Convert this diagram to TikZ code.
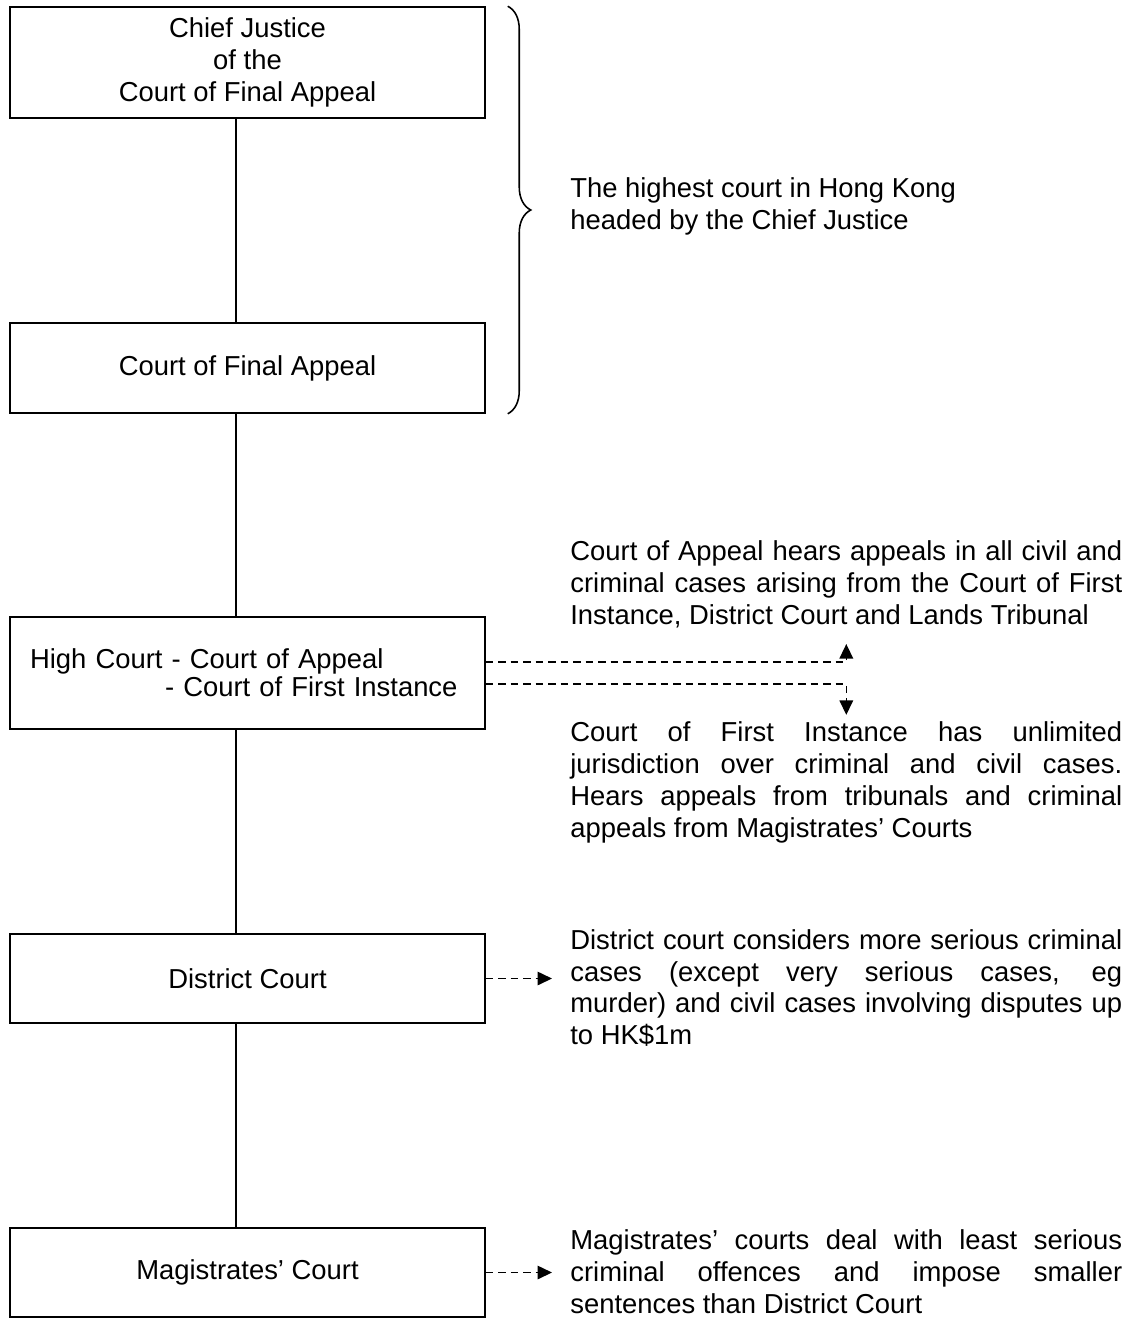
\documentclass[tikz,border=0pt]{standalone}
\usepackage{fontspec}
\setmainfont{Liberation Sans}
\usetikzlibrary{arrows.meta,positioning,decorations.pathreplacing}
\newcommand{\jline}[1]{\makebox[11.04cm][s]{#1}}

\begin{document}
\begin{tikzpicture}[
  x=0.02cm, y=-0.02cm,
  >={Triangle[length=0.29cm,width=0.27cm]},
  font=\fontsize{15.6}{18.2}\selectfont,
  court/.style={draw, line width=0.9pt, minimum width=9.5cm, align=center, inner sep=0pt},
  note/.style={anchor=west, align=left, inner sep=0pt},
  link/.style={line width=0.9pt},
  dashlink/.style={->, line width=0.9pt, dash pattern=on 0.15cm off 0.1cm}
]
\useasboundingbox (0,0) rectangle (1136,1325);

\node[court, minimum height=2.22cm] (cj) at (247.5,62.5) {Chief Justice\\of the\\Court of Final Appeal};
\node[court, minimum height=1.80cm] (cfa) at (247.5,368) {Court of Final Appeal};
\node[court, minimum height=2.24cm, text width=8.7cm, align=left, inner xsep=0.4cm,
      font=\fontsize{15.6}{16}\selectfont] (hc) at (247.5,673)
  {High Court - Court of Appeal\\\hspace*{2.7cm}- Court of First Instance};
\node[court, minimum height=1.78cm] (dc) at (247.5,978.5) {District Court};
\node[court, minimum height=1.78cm] (mc) at (247.5,1272.5) {Magistrates' Court};

% the vertical line runs a little left of the box centres
\coordinate (spine) at (236,0);
\foreach \a/\b in {cj/cfa, cfa/hc, hc/dc, dc/mc}
  \draw[link] (\a.south -| spine) -- (\b.north -| spine);

\draw[link, decorate, decoration={brace, amplitude=0.46cm}]
  ([xshift=0.44cm]cj.north east) -- ([xshift=0.44cm]cfa.south east);

\node[note] (top) at (570,206) {The highest court in Hong Kong\\headed by the Chief Justice};
\node[note] (appeal) at (570,584)
  {\jline{Court of Appeal hears appeals in all civil and}\\
   \jline{criminal cases arising from the Court of First}\\
   Instance, District Court and Lands Tribunal};
\node[note] (cfi) at (570,782)
  {\jline{Court of First Instance has unlimited}\\
   \jline{jurisdiction over criminal and civil cases.}\\
   \jline{Hears appeals from tribunals and criminal}\\
   appeals from Magistrates' Courts};
\node[note] (district) at (570,988)
  {\jline{District court considers more serious criminal}\\
   \jline{cases (except very serious cases, eg}\\
   \jline{murder) and civil cases involving disputes up}\\
   to HK\$1m};
\node[note] (magis) at (570,1272)
  {\jline{Magistrates' courts deal with least serious}\\
   \jline{criminal offences and impose smaller}\\
   sentences than District Court};

\draw[dashlink] ([yshift=0.22cm]hc.east) -| ([yshift=-0.32cm]appeal.south);
\draw[dashlink] ([yshift=-0.22cm]hc.east) -| ([yshift=0.12cm]cfi.north);
\draw[dashlink, shorten >=0.36cm] (dc.east) -- (dc.east -| district.west);
\draw[dashlink, shorten >=0.36cm] (mc.east) -- (mc.east -| magis.west);
\end{tikzpicture}
\end{document}
